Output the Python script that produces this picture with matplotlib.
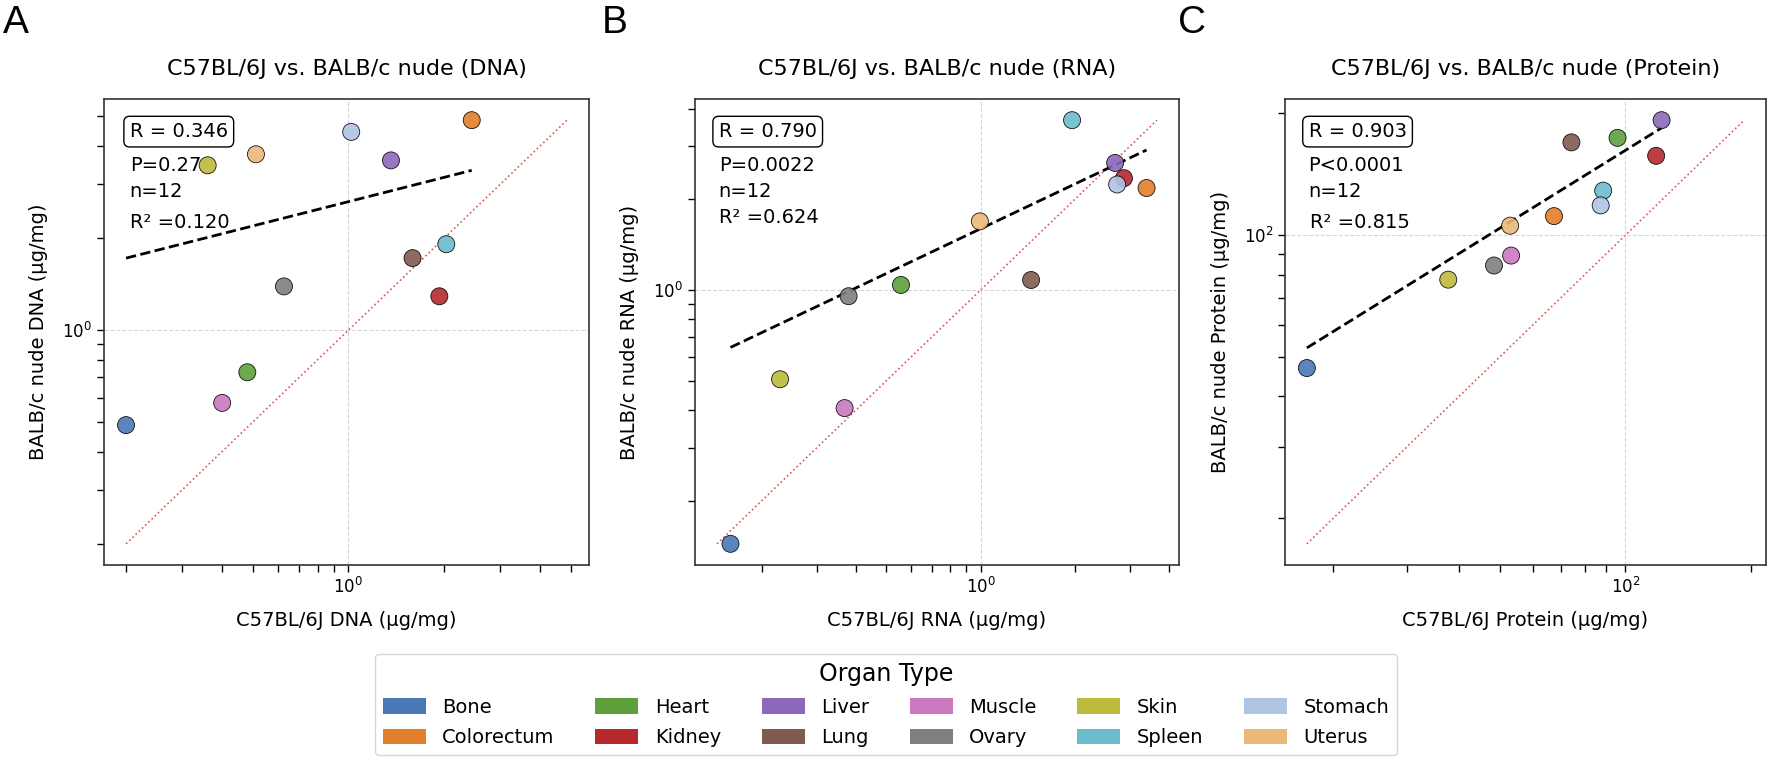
import numpy as np
import matplotlib
matplotlib.use("Agg")
import matplotlib.pyplot as plt
from matplotlib.patches import Patch

# organ order (legend is alphabetical)
organs = ["Bone", "Colorectum", "Heart", "Kidney", "Liver", "Lung",
          "Muscle", "Ovary", "Skin", "Spleen", "Stomach", "Uterus"]
colors = ["#4a78b4", "#e27f2a", "#5ea03c", "#b5292d", "#8b68ba", "#825b50",
          "#cb78c0", "#7f7f7f", "#bcbb3c", "#6bbccc", "#b0c4e4", "#ecb87a"]

# C57BL/6J (x) vs BALB/c nude (y)
dna_c57 = [0.20, 2.44, 0.481, 1.93, 1.36, 1.59, 0.401, 0.627, 0.361, 2.03, 1.02, 0.512]
dna_balb = [0.489, 4.86, 0.728, 1.29, 3.59, 1.72, 0.578, 1.39, 3.46, 1.91, 4.45, 3.76]

rna_c57 = [0.159, 3.39, 0.557, 2.87, 2.69, 1.45, 0.368, 0.379, 0.229, 1.96, 2.73, 0.995]
rna_balb = [0.144, 2.18, 1.04, 2.35, 2.64, 1.08, 0.406, 0.954, 0.506, 3.66, 2.24, 1.69]

prot_c57 = [17.3, 67.5, 95.8, 118.5, 122.1, 74.3, 53.3, 48.5, 37.7, 88.5, 87.3, 53.0]
prot_balb = [47.0, 111.5, 174.0, 157.1, 192.4, 169.6, 89.1, 84.2, 77.7, 128.9, 118.5, 105.6]

panels = [
    ("A", "DNA", dna_c57, dna_balb, ["R = 0.346", "P=0.27", "n=12", "R\u00b2 =0.120"]),
    ("B", "RNA", rna_c57, rna_balb, ["R = 0.790", "P=0.0022", "n=12", "R\u00b2 =0.624"]),
    ("C", "Protein", prot_c57, prot_balb, ["R = 0.903", "P<0.0001", "n=12", "R\u00b2 =0.815"]),
]

W, H = 1772, 759
fig = plt.figure(figsize=(W / 100, H / 100), dpi=100)

lefts = [104, 695, 1285]
widths = [485, 484, 481]
letter_x = [3, 602, 1178]
text_x = [0.053, 0.049, 0.049]
r2_y = [0.735, 0.745, 0.735]
top, bottom = 99, 565

for i, (letter, kind, xv, yv, stats) in enumerate(panels):
    ax = fig.add_axes([lefts[i] / W, (H - bottom) / H, widths[i] / W, (bottom - top) / H])
    x = np.array(xv)
    y = np.array(yv)

    ax.scatter(x, y, c=colors, s=150, edgecolors="black", linewidths=0.6, alpha=0.9, zorder=3)

    # linear fit drawn between the smallest and largest x
    slope, inter = np.polyfit(x, y, 1)
    xl = np.array([x.min(), x.max()])
    ax.plot(xl, slope * xl + inter, "k--", lw=2, zorder=2)

    # identity line
    lo = min(x.min(), y.min())
    hi = max(x.max(), y.max())
    ax.plot([lo, hi], [lo, hi], ":", color="#d03030", lw=1.2, alpha=0.8, zorder=1)

    ax.set_xscale("log")
    ax.set_yscale("log")
    ax.grid(True, which="major", ls="--", color="#bbbbbb", alpha=0.6, lw=0.8)
    ax.tick_params(which="both", length=5, width=1, labelsize=12)
    for s in ax.spines.values():
        s.set_linewidth(1.2)
        s.set_color("#333333")

    ax.set_title(f"C57BL/6J vs. BALB/c nude ({kind})", fontsize=16, pad=17)
    ax.set_xlabel(f"C57BL/6J {kind} (\u03bcg/mg)", fontsize=14, labelpad=10)
    ax.set_ylabel(f"BALB/c nude {kind} (\u03bcg/mg)", fontsize=14, labelpad=10)

    tx = text_x[i]
    ax.text(tx, 0.930, stats[0], transform=ax.transAxes, fontsize=14, va="center",
            bbox=dict(boxstyle="round,pad=0.3", fc="white", ec="black", lw=1))
    ax.text(tx, 0.857, stats[1], transform=ax.transAxes, fontsize=14, va="center")
    ax.text(tx, 0.802, stats[2], transform=ax.transAxes, fontsize=14, va="center")
    ax.text(tx if i < 2 else tx + 0.004, r2_y[i], stats[3], transform=ax.transAxes,
            fontsize=14, va="center")

    fig.text(letter_x[i] / W, 1 - 5 / H, letter, fontsize=28, va="top", ha="left",
             family=["Liberation Sans", "DejaVu Sans"])

handles = [Patch(facecolor=c, label=o) for o, c in zip(organs, colors)]
fig.legend(handles=handles, loc="lower center", bbox_to_anchor=(0.5, 0.0), ncol=6,
           title="Organ Type", fontsize=14, title_fontsize=17, frameon=True,
           borderaxespad=0.2, handlelength=2.2, handleheight=0.85,
           columnspacing=2.1, handletextpad=0.85, labelspacing=0.6)

fig.savefig("out.png", dpi=100)
